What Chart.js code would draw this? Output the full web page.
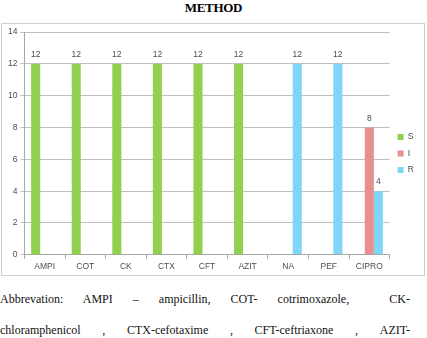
<!DOCTYPE html>
<html>
<head>
<meta charset="utf-8">
<script src="https://cdn.jsdelivr.net/npm/chart.js@4.4.0/dist/chart.umd.min.js"></script>
<style>
  html, body { margin: 0; padding: 0; background: #fff; }
  body { width: 427px; height: 338px; position: relative; overflow: hidden; }
  .title { position: absolute; left: 0; top: 0; width: 427px; text-align: center;
           font: bold 13px "Liberation Serif", serif; line-height: 15px; letter-spacing: -0.3px; }
  .box { position: absolute; left: 1px; top: 23px; width: 422px; height: 251px; border: 1px solid #cfcfcf; }
  .note { position: absolute; left: 0; width: 410px; font: 12px "Liberation Serif", serif; color: #111;
          text-align: justify; text-align-last: justify; }
</style>
</head>
<body>
<div class="title">METHOD</div>
<div class="box"><canvas id="chart" width="422" height="251"></canvas></div>
<div class="note" style="top:292px;">Abbrevation:&nbsp; AMPI &nbsp;– &nbsp;ampicillin, &nbsp;COT- &nbsp;cotrimoxazole, &nbsp;&nbsp; CK-</div>
<div class="note" style="top:323px;">chloramphenicol &nbsp;, &nbsp;CTX-cefotaxime &nbsp;, &nbsp;CFT-ceftriaxone &nbsp;, &nbsp;AZIT-</div>
<script>
const drugs = ['AMPI', 'COT', 'CK', 'CTX', 'CFT', 'AZIT', 'NA', 'PEF', 'CIPRO'];
const sensitive = [12, 12, 12, 12, 12, 12, 0, 0, 0];
const intermediate = [0, 0, 0, 0, 0, 0, 0, 0, 8];
const resistant = [0, 0, 0, 0, 0, 0, 12, 12, 4];
const yTicks = [0, 2, 4, 6, 8, 10, 12, 14];

const textColor = '#4d4d4d';
const font = { family: 'Liberation Sans, sans-serif', size: 8.5 };

// value labels above the bars (skip zeros)
const barLabels = {
    id: 'barLabels',
    afterDatasetsDraw(chart) {
        const ctx = chart.ctx;
        ctx.save();
        ctx.font = '8.5px Liberation Sans, sans-serif';
        ctx.fillStyle = textColor;
        ctx.textAlign = 'center';
        ctx.textBaseline = 'bottom';
        chart.data.datasets.forEach((ds, i) => {
            chart.getDatasetMeta(i).data.forEach((bar, j) => {
                if (ds.data[j] > 0) ctx.fillText(ds.data[j], bar.x, bar.y - 5);
            });
        });
        ctx.restore();
    }
};

new Chart(document.getElementById('chart'), {
    type: 'bar',
    data: {
        labels: drugs,
        datasets: [
            { label: 'S', data: sensitive, backgroundColor: '#92d050' },
            { label: 'I', data: intermediate, backgroundColor: '#e6918f' },
            { label: 'R', data: resistant, backgroundColor: '#7fd6f7' }
        ]
    },
    options: {
        responsive: false,
        animation: false,
        categoryPercentage: 0.67,
        barPercentage: 1,
        layout: { padding: { left: 3, top: 8, right: 0, bottom: 0 } },
        plugins: {
            tooltip: { enabled: false },
            legend: {
                position: 'right',
                labels: { boxWidth: 6, boxHeight: 6, padding: 8, color: textColor, font: font }
            }
        },
        scales: {
            x: {
                grid: { offset: true, drawOnChartArea: false, tickLength: 4, color: '#a6a6a6' },
                border: { color: '#a6a6a6' },
                ticks: { color: textColor, font: font, padding: 3 }
            },
            y: {
                min: 0,
                max: 14,
                afterBuildTicks: axis => { axis.ticks = yTicks.map(v => ({ value: v })); },
                grid: { color: '#bfbfbf', tickLength: 4 },
                border: { color: '#a6a6a6' },
                ticks: { color: textColor, font: font, padding: 3 }
            }
        }
    },
    plugins: [barLabels]
});
</script>
</body>
</html>
